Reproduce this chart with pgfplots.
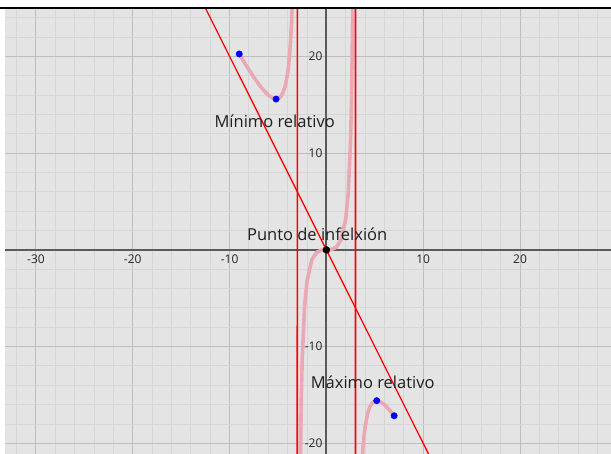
\documentclass[border=0pt]{standalone}
\usepackage{pgfplots}
\pgfplotsset{compat=1.18}
\usepackage{fontspec}
\setmainfont{Open Sans}
\definecolor{bggray}{RGB}{228,228,228}
\definecolor{minorgrid}{RGB}{214,214,214}
\definecolor{majorgrid}{RGB}{190,190,190}
\definecolor{axisgray}{RGB}{90,90,90}
\definecolor{curvepink}{RGB}{234,168,180}
\begin{document}
\begin{tikzpicture}
\useasboundingbox (0,0) rectangle (611pt,454pt);
\fill[white] (0,0) rectangle (611pt,454pt);
\begin{axis}[
  at={(5pt,0pt)}, anchor=south west,
  scale only axis, width=606pt, height=445pt,
  xmin=-33.2, xmax=29.4, ymin=-21.1, ymax=24.9,
  axis lines=middle,
  axis line style={-, line width=1.8pt, color=axisgray},
  xtick={-30,-20,-10,10,20}, xticklabels={-30,-20,-10,10,20},
  ytick={-20,-10,10,20}, yticklabels={-20,-10,10,20},
  minor xtick={-32,-28,-26,-24,-22,-18,-16,-14,-12,-8,-6,-4,-2,2,4,6,8,12,14,16,18,22,24,26,28},
  minor ytick={-18,-16,-14,-12,-8,-6,-4,-2,2,4,6,8,12,14,16,18,22,24},
  grid=both,
  major grid style={color=majorgrid, line width=1pt},
  minor grid style={color=minorgrid, line width=1pt},
  major tick length=0pt, minor tick length=0pt,
  axis background/.style={fill=bggray},
  tick label style={font=\fontsize{12}{14}\selectfont, text=black!85},
  xticklabel style={anchor=north, yshift=-1.5pt},
  yticklabel style={anchor=east, xshift=-0.5pt},
  clip=true,
]
% f(x) = 2x^3/(9-x^2), drawn on [-9,7]
\addplot[curvepink, line width=3.6pt, line join=round, line cap=round] coordinates {
(-9,20.25) (-8.5,19.419) (-8,18.618) (-7.5,17.857) (-7,17.15) (-6.5,16.519)
(-6,16.0) (-5.5,15.659) (-5.196,15.588) (-5,15.625) (-4.75,15.804) (-4.5,16.2)
(-4.25,16.941) (-4,18.286) (-3.9,19.104) (-3.8,20.174) (-3.7,21.6) (-3.6,23.564)
(-3.5,26.385) (-3.4,30.706) (-3.3,38.03)
};
\addplot[curvepink, line width=3.6pt, line join=round] coordinates {
(-2.8,-37.848) (-2.75,-28.935) (-2.7,-23.021) (-2.6,-15.693) (-2.5,-11.364)
(-2.25,-5.786) (-2,-3.2) (-1.5,-1.0) (-1,-0.25) (-0.5,-0.0286) (0,0)
(0.5,0.0286) (1,0.25) (1.5,1.0) (2,3.2) (2.25,5.786) (2.5,11.364) (2.6,15.693)
(2.7,23.021) (2.75,28.935) (2.8,37.848)
};
\addplot[curvepink, line width=3.6pt, line join=round, line cap=round] coordinates {
(3.2,-52.85) (3.3,-38.03) (3.4,-30.706) (3.5,-26.385) (3.6,-23.564) (3.7,-21.6)
(3.8,-20.174) (3.9,-19.104) (4,-18.286) (4.25,-16.941) (4.5,-16.2) (4.75,-15.804)
(5,-15.625) (5.196,-15.588) (5.5,-15.659) (6,-16.0) (6.5,-16.519) (7,-17.15)
};
% asymptotes
\addplot[red, line width=1.7pt] coordinates {(-3.001,-25) (-2.999,30)};
\addplot[red, line width=1.7pt] coordinates {(2.999,-25) (3.001,30)};
\addplot[red, line width=1.3pt] coordinates {(-15,30) (15,-30)};
% points
\addplot[only marks, mark=*, mark size=3.2pt, color=blue] coordinates {
(-9,20.25) (-5.196,15.588) (5.196,-15.588) (7,-17.15)};
\addplot[only marks, mark=*, mark size=3.5pt, color=black] coordinates {(0,0)};
\node[font=\fontsize{16.5}{18}\selectfont, text=black!88] at (axis cs:-5.34,13.3) {Mínimo relativo};
\node[font=\fontsize{16.5}{18}\selectfont, text=black!88] at (axis cs:-0.95,1.65) {Punto de infelxión};
\node[font=\fontsize{16.5}{18}\selectfont, text=black!88] at (axis cs:4.78,-13.7) {Máximo relativo};
\end{axis}
\draw[line width=2.5pt, black] (0,446pt) -- (611pt,446pt);
\end{tikzpicture}
\end{document}
